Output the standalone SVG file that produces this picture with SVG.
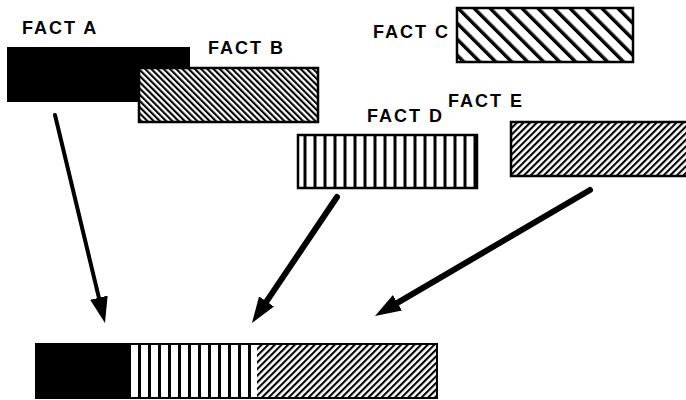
<svg xmlns="http://www.w3.org/2000/svg" width="686" height="400" viewBox="0 0 686 400">
  <style>
    .lbl { font-family: "Liberation Sans", Arial, sans-serif; font-weight: bold; font-size: 18px; letter-spacing: 2px; fill: #000; }
    .box { stroke: #000; stroke-width: 2.5; }
    .conn { stroke: #000; fill: none; stroke-linecap: round; }
  </style>
  <defs>
    <pattern id="hatchB" patternUnits="userSpaceOnUse" width="4.4" height="4.4" patternTransform="rotate(-45)">
      <rect width="4.4" height="4.4" fill="#fff"/>
      <rect width="2.1" height="4.4" fill="#000"/>
    </pattern>
    <pattern id="hatchC" patternUnits="userSpaceOnUse" width="11.3" height="11.3" patternTransform="rotate(-45)">
      <rect width="11.3" height="11.3" fill="#fff"/>
      <rect width="3.4" height="11.3" fill="#000"/>
    </pattern>
    <pattern id="hatchE" patternUnits="userSpaceOnUse" width="4.7" height="4.7" patternTransform="rotate(45)">
      <rect width="4.7" height="4.7" fill="#fff"/>
      <rect width="2.1" height="4.7" fill="#000"/>
    </pattern>
    <pattern id="vstripeD" patternUnits="userSpaceOnUse" x="3.5" y="0" width="10" height="10">
      <rect width="10" height="10" fill="#fff"/>
      <rect width="3" height="10" fill="#000"/>
    </pattern>
    <pattern id="vstripeR" patternUnits="userSpaceOnUse" x="8" y="0" width="10" height="10">
      <rect width="10" height="10" fill="#fff"/>
      <rect width="3" height="10" fill="#000"/>
    </pattern>
    <marker id="head" markerUnits="userSpaceOnUse" viewBox="0 0 26 18" refX="12" refY="9" markerWidth="26" markerHeight="18" orient="auto">
      <path d="M0,0 L26,9 L0,18 Z" fill="#000"/>
    </marker>
  </defs>

  <rect width="686" height="400" fill="#fff"/>

  <g id="factA">
    <rect x="7" y="47" width="183" height="55" fill="#000"/>
    <text class="lbl" x="22" y="34">FACT A</text>
  </g>

  <g id="factB">
    <rect class="box" x="139" y="68" width="179" height="54" fill="url(#hatchB)"/>
    <text class="lbl" x="208" y="54">FACT B</text>
  </g>

  <g id="factC">
    <rect class="box" x="457" y="8" width="176" height="54" fill="url(#hatchC)"/>
    <text class="lbl" x="373" y="38">FACT C</text>
  </g>

  <g id="factD">
    <rect class="box" x="298" y="135" width="179" height="53" fill="url(#vstripeD)"/>
    <text class="lbl" x="367" y="122">FACT D</text>
  </g>

  <g id="factE">
    <rect class="box" x="511" y="122" width="180" height="54" fill="url(#hatchE)"/>
    <text class="lbl" x="448" y="107">FACT E</text>
  </g>

  <g id="combined">
    <rect x="36" y="344" width="94" height="54" fill="#000"/>
    <rect x="130" y="344" width="127" height="54" fill="url(#vstripeR)"/>
    <rect x="257" y="344" width="180" height="54" fill="url(#hatchE)"/>
    <rect x="36" y="344" width="401" height="54" fill="none" stroke="#000" stroke-width="2"/>
  </g>

  <g id="connectors">
    <path class="conn" d="M55,115 L101.7,309.4" stroke-width="4" marker-end="url(#head)"/>
    <path class="conn" d="M337,197 L259.8,311.4" stroke-width="6" marker-end="url(#head)"/>
    <path class="conn" d="M590,190 L387.1,308.9" stroke-width="6" marker-end="url(#head)"/>
  </g>
</svg>
